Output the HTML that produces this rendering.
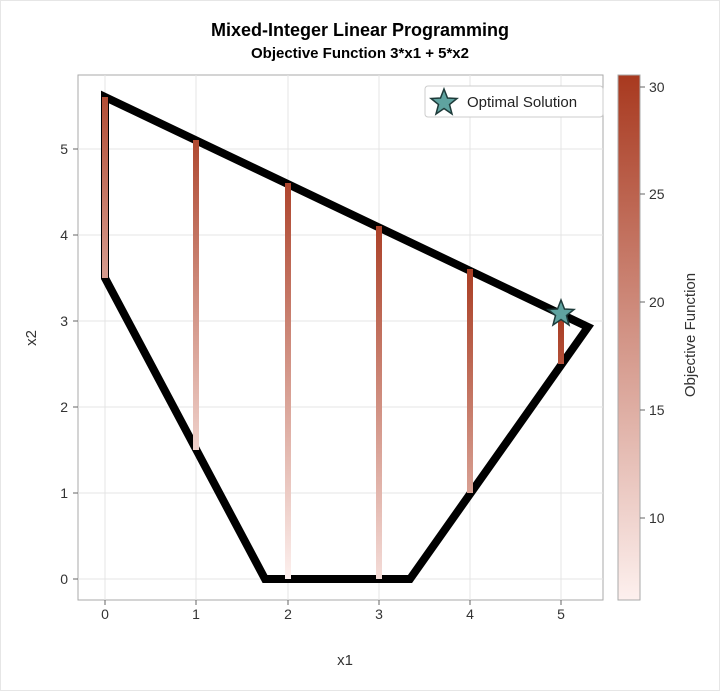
<!DOCTYPE html>
<html><head><meta charset="utf-8"><style>body{margin:0;background:#fff}svg{display:block;font-family:"Liberation Sans",Arial,sans-serif}</style></head><body>
<svg width="720" height="691" viewBox="0 0 720 691" xmlns="http://www.w3.org/2000/svg">
<defs>
<linearGradient id="g0" x1="0" y1="278" x2="0" y2="97" gradientUnits="userSpaceOnUse"><stop offset="0" stop-color="rgb(214,156,143)"/><stop offset="1" stop-color="rgb(177,77,53)"/></linearGradient>
<linearGradient id="g1" x1="0" y1="450" x2="0" y2="140" gradientUnits="userSpaceOnUse"><stop offset="0" stop-color="rgb(239,209,203)"/><stop offset="1" stop-color="rgb(175,73,49)"/></linearGradient>
<linearGradient id="g2" x1="0" y1="579" x2="0" y2="183" gradientUnits="userSpaceOnUse"><stop offset="0" stop-color="rgb(253,240,238)"/><stop offset="1" stop-color="rgb(174,69,45)"/></linearGradient>
<linearGradient id="g3" x1="0" y1="579" x2="0" y2="226" gradientUnits="userSpaceOnUse"><stop offset="0" stop-color="rgb(244,220,216)"/><stop offset="1" stop-color="rgb(172,65,40)"/></linearGradient>
<linearGradient id="g4" x1="0" y1="493" x2="0" y2="269" gradientUnits="userSpaceOnUse"><stop offset="0" stop-color="rgb(216,160,147)"/><stop offset="1" stop-color="rgb(170,62,36)"/></linearGradient>
<linearGradient id="g5" x1="0" y1="364" x2="0" y2="312" gradientUnits="userSpaceOnUse"><stop offset="0" stop-color="rgb(179,80,57)"/><stop offset="1" stop-color="rgb(168,58,32)"/></linearGradient>
<linearGradient id="cb" x1="0" y1="600" x2="0" y2="75" gradientUnits="userSpaceOnUse"><stop offset="0" stop-color="rgb(253,240,238)"/><stop offset="1" stop-color="rgb(168,57,31)"/></linearGradient>
</defs>
<rect x="0.5" y="0.5" width="719" height="690" fill="#fff" stroke="#e6e6e6"/>
<text x="360" y="36" text-anchor="middle" font-size="18" font-weight="bold">Mixed-Integer Linear Programming</text>
<text x="360" y="58" text-anchor="middle" font-size="15" font-weight="bold">Objective Function 3*x1 + 5*x2</text>
<rect x="78" y="75" width="525" height="525" fill="#fff" stroke="#aaa"/>
<g stroke="#e4e4e4" stroke-width="1">
<line x1="105" y1="75" x2="105" y2="600"/><line x1="196" y1="75" x2="196" y2="600"/><line x1="288" y1="75" x2="288" y2="600"/><line x1="379" y1="75" x2="379" y2="600"/><line x1="470" y1="75" x2="470" y2="600"/><line x1="561" y1="75" x2="561" y2="600"/>
<line x1="78" y1="579" x2="603" y2="579"/><line x1="78" y1="493" x2="603" y2="493"/><line x1="78" y1="407" x2="603" y2="407"/><line x1="78" y1="321" x2="603" y2="321"/><line x1="78" y1="235" x2="603" y2="235"/><line x1="78" y1="149" x2="603" y2="149"/>
</g>
<polygon points="105,97 588,327 410,579 265,579 105,278" fill="none" stroke="#000" stroke-width="8" stroke-linejoin="miter"/>
<g stroke-width="6">
<line x1="105" y1="278" x2="105" y2="97" stroke="url(#g0)"/>
<line x1="196" y1="450" x2="196" y2="140" stroke="url(#g1)"/>
<line x1="288" y1="579" x2="288" y2="183" stroke="url(#g2)"/>
<line x1="379" y1="579" x2="379" y2="226" stroke="url(#g3)"/>
<line x1="470" y1="493" x2="470" y2="269" stroke="url(#g4)"/>
<line x1="561" y1="364" x2="561" y2="312" stroke="url(#g5)"/>
</g>
<polygon points="561,300 564.5,309 574,309.5 566.5,315.5 569,325 561,319.5 553,325 555.5,315.5 548,309.5 557.5,309" fill="#5fa3a0" stroke="#1e3b3a" stroke-width="1.5"/>
<rect x="425" y="86" width="178" height="31" rx="3" fill="#fff" stroke="#ccc"/>
<polygon points="444,89 447.5,98 457,98.5 449.5,104.5 452,114 444,108.5 436,114 438.5,104.5 431,98.5 440.5,98" fill="#5fa3a0" stroke="#1e3b3a" stroke-width="1.5"/>
<text x="467" y="107" font-size="15" fill="#222">Optimal Solution</text>
<g font-size="14" fill="#333" text-anchor="middle">
<text x="105" y="619">0</text><text x="196" y="619">1</text><text x="288" y="619">2</text><text x="379" y="619">3</text><text x="470" y="619">4</text><text x="561" y="619">5</text>
</g>
<g stroke="#666"><line x1="105" y1="600" x2="105" y2="605"/><line x1="196" y1="600" x2="196" y2="605"/><line x1="288" y1="600" x2="288" y2="605"/><line x1="379" y1="600" x2="379" y2="605"/><line x1="470" y1="600" x2="470" y2="605"/><line x1="561" y1="600" x2="561" y2="605"/>
<line x1="73" y1="579" x2="78" y2="579"/><line x1="73" y1="493" x2="78" y2="493"/><line x1="73" y1="407" x2="78" y2="407"/><line x1="73" y1="321" x2="78" y2="321"/><line x1="73" y1="235" x2="78" y2="235"/><line x1="73" y1="149" x2="78" y2="149"/></g>
<g font-size="14" fill="#333" text-anchor="end">
<text x="68" y="584">0</text><text x="68" y="498">1</text><text x="68" y="412">2</text><text x="68" y="326">3</text><text x="68" y="240">4</text><text x="68" y="154">5</text>
</g>
<text x="345" y="665" text-anchor="middle" font-size="15" fill="#333">x1</text>
<text x="36" y="338" text-anchor="middle" font-size="15" fill="#333" transform="rotate(-90 36 338)">x2</text>
<rect x="618" y="75" width="22" height="525" fill="url(#cb)" stroke="#aaa"/>
<g stroke="#666"><line x1="640" y1="87" x2="645" y2="87"/><line x1="640" y1="194" x2="645" y2="194"/><line x1="640" y1="302" x2="645" y2="302"/><line x1="640" y1="410" x2="645" y2="410"/><line x1="640" y1="518" x2="645" y2="518"/></g>
<g font-size="14" fill="#333"><text x="649" y="92">30</text><text x="649" y="199">25</text><text x="649" y="307">20</text><text x="649" y="415">15</text><text x="649" y="523">10</text></g>
<text x="695" y="335" text-anchor="middle" font-size="15" fill="#333" transform="rotate(-90 695 335)">Objective Function</text>
</svg>
</body></html>
